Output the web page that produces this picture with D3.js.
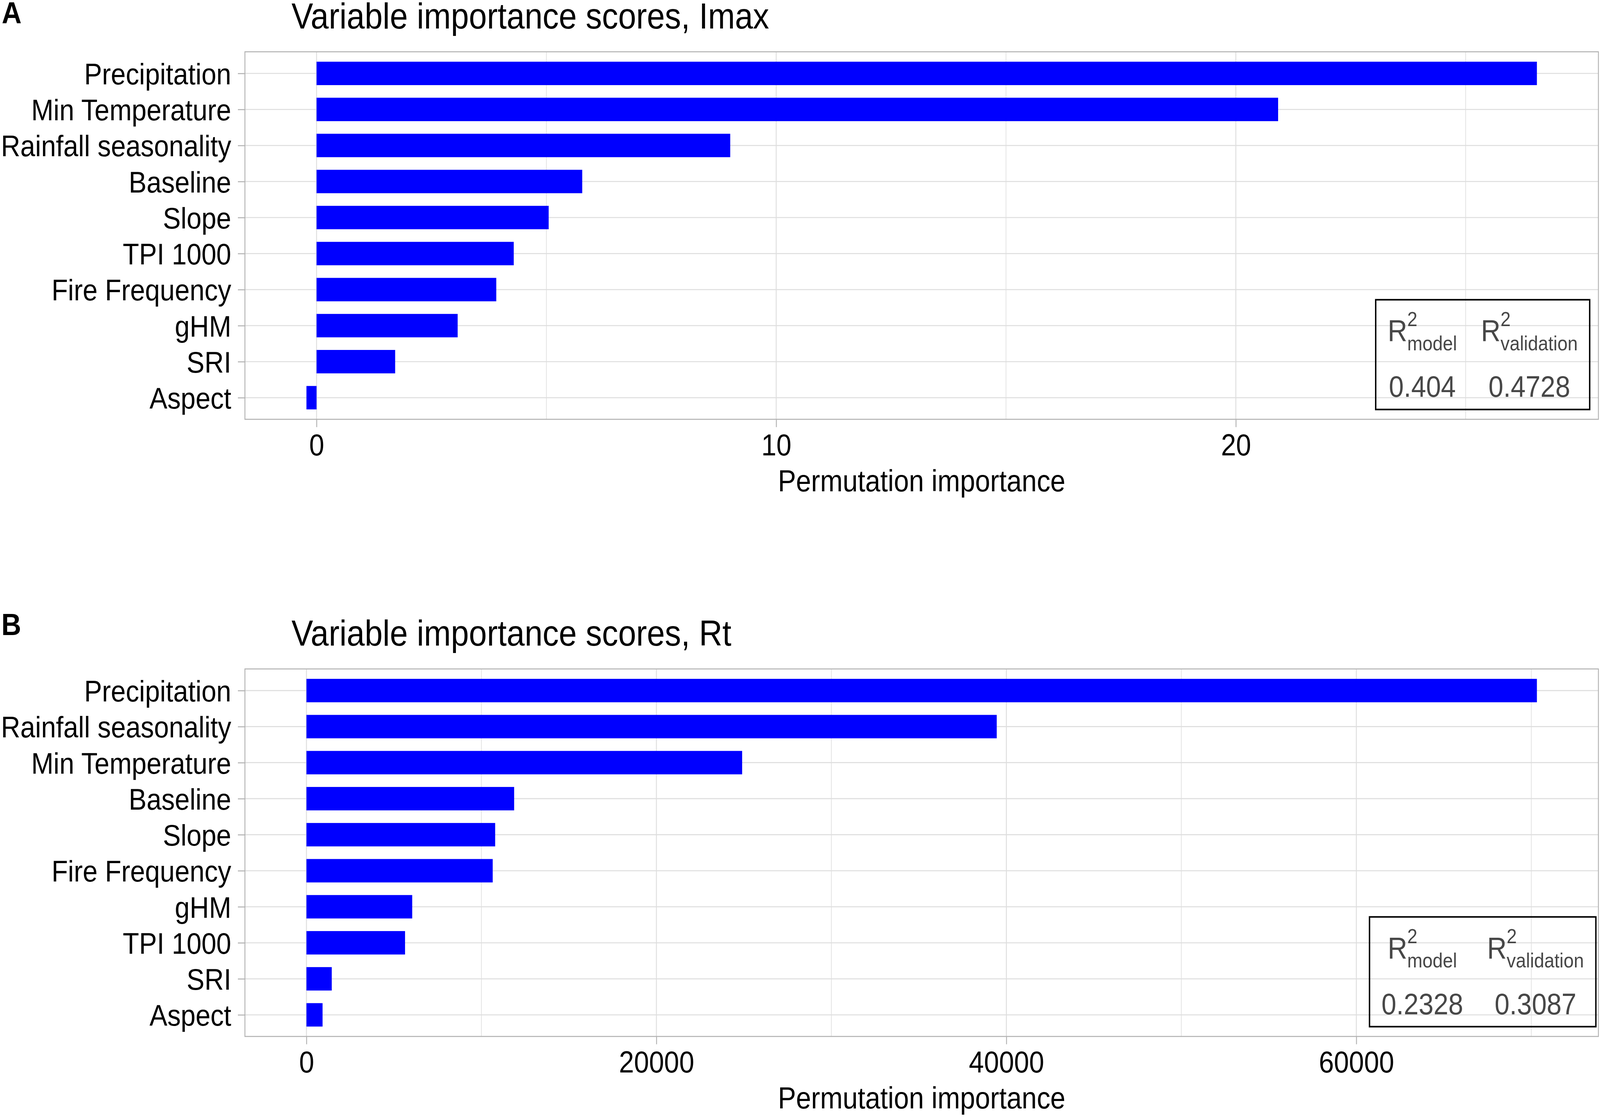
<!DOCTYPE html>
<html>
<head>
<meta charset="utf-8">
<script src="https://d3js.org/d3.v7.min.js"></script>
<style>
  html, body {
    margin: 0;
    padding: 0;
    width: 100%;
    height: 100%;
    background: white;
    overflow: hidden;
  }
  svg {
    display: block;
    width: 100vw;
    height: 100vh;
    font-family: "Liberation Sans", Arial, Helvetica, sans-serif;
  }
</style>
</head>
<body>
<svg viewBox="0 0 4550 2860" preserveAspectRatio="none"></svg>
<script>
// Panel A: Imax
const imaxVars = ["Precipitation", "Min Temperature", "Rainfall seasonality", "Baseline", "Slope",
                  "TPI 1000", "Fire Frequency", "gHM", "SRI", "Aspect"];
const imaxScores = [26.55, 20.92, 9.00, 5.78, 5.05, 4.29, 3.91, 3.07, 1.71, -0.22];
const imaxTicks = [0, 10, 20];
const imaxMinor = [5, 15, 25];
const imaxR2 = ["0.404", "0.4728"];

// Panel B: Rt
const rtVars = ["Precipitation", "Rainfall seasonality", "Min Temperature", "Baseline", "Slope",
                "Fire Frequency", "gHM", "TPI 1000", "SRI", "Aspect"];
const rtScores = [70320, 39450, 24900, 11870, 10785, 10645, 6045, 5635, 1447, 921];
const rtTicks = [0, 20000, 40000, 60000];
const rtMinor = [10000, 30000, 50000, 70000];
const rtR2 = ["0.2328", "0.3087"];

const r2Names = ["model", "validation"];

const svg = d3.select("svg");
svg.append("rect").attr("width", 4550).attr("height", 2860).attr("fill", "white");

const left = 696.5, right = 4545.5, panelH = 941;
const gridCol = "#dedede", borderCol = "#b3b3b3";

function drawPanel(o) {
  const top = o.top, bottom = top + panelH;
  const lo = Math.min(0, d3.min(o.scores)), hi = Math.max(0, d3.max(o.scores));
  const pad = (hi - lo) * 0.05;

  const x = d3.scaleLinear().domain([lo - pad, hi + pad]).range([left, right]);
  const y = d3.scalePoint().domain(o.vars).range([top, bottom]).padding(0.6);
  const bh = y.step() * 0.65;

  const g = svg.append("g");

  // grid lines
  g.selectAll(".minor").data(o.minor).join("line")
    .attr("x1", d => x(d)).attr("x2", d => x(d))
    .attr("y1", top).attr("y2", bottom)
    .attr("stroke", gridCol).attr("stroke-width", 1.8);
  g.selectAll(".major").data(o.ticks).join("line")
    .attr("x1", d => x(d)).attr("x2", d => x(d))
    .attr("y1", top).attr("y2", bottom)
    .attr("stroke", gridCol).attr("stroke-width", 2.6);
  g.selectAll(".hgrid").data(o.vars).join("line")
    .attr("x1", left).attr("x2", right)
    .attr("y1", d => y(d)).attr("y2", d => y(d))
    .attr("stroke", gridCol).attr("stroke-width", 2.6);

  // bars
  g.selectAll(".bar").data(o.vars.map((v, i) => ({ v: v, s: o.scores[i] }))).join("rect")
    .attr("x", d => x(Math.min(0, d.s)))
    .attr("width", d => Math.abs(x(d.s) - x(0)))
    .attr("y", d => y(d.v) - bh / 2)
    .attr("height", bh)
    .attr("fill", "#0000ff");

  // panel border
  g.append("rect")
    .attr("x", left).attr("y", top)
    .attr("width", right - left).attr("height", panelH)
    .attr("fill", "none").attr("stroke", borderCol).attr("stroke-width", 2.6);

  // axes
  const xAxis = g.append("g")
    .attr("transform", "translate(0," + bottom + ")")
    .call(d3.axisBottom(x).tickValues(o.ticks).tickFormat(d3.format("d"))
      .tickSizeInner(20).tickSizeOuter(0).tickPadding(18));
  const yAxis = g.append("g")
    .attr("transform", "translate(" + left + ",0)")
    .call(d3.axisLeft(y).tickSizeInner(20).tickSizeOuter(0).tickPadding(19));

  [xAxis, yAxis].forEach(a => {
    a.attr("font-family", null).attr("font-size", null);
    a.select(".domain").remove();
    a.selectAll(".tick line").attr("stroke", borderCol).attr("stroke-width", 2.6);
    a.selectAll(".tick text").attr("fill", "black");
  });
  xAxis.selectAll(".tick text").style("font-size", "77px");
  yAxis.selectAll(".tick text").style("font-size", "76px").attr("dy", "0.36em");

  // axis title
  g.append("text")
    .attr("x", (left + right) / 2).attr("y", bottom + 184.5)
    .attr("text-anchor", "middle")
    .style("font-size", "77px")
    .text("Permutation importance");

  // plot title
  g.append("text")
    .attr("x", 829).attr("y", top - 59.7)
    .style("font-size", "92px")
    .text(o.title);

  // panel tag
  g.append("text")
    .attr("x", o.tagX).attr("y", o.tagY)
    .style("font-size", "78px").style("font-weight", "bold")
    .text(o.tag);

  // R2 table
  const cx = left + 0.9145 * (right - left), cy = bottom - 0.176 * panelH;
  const tg = g.append("g").attr("fill", "#474747");
  const cols = r2Names.map((name, i) => {
    const R = tg.append("text").style("font-size", "77px").text("R");
    const sup = tg.append("text").style("font-size", "52px").text("2");
    const sub = tg.append("text").style("font-size", "52px").text(name);
    const val = tg.append("text").style("font-size", "76px")
      .attr("text-anchor", "middle").text(o.r2[i]);
    const wR = R.node().getComputedTextLength();
    const wS = Math.max(sup.node().getComputedTextLength(), sub.node().getComputedTextLength());
    const wV = val.node().getComputedTextLength();
    return { R: R, sup: sup, sub: sub, val: val, wR: wR, wH: wR + wS, w: Math.max(wR + wS, wV) + 68 };
  });
  const tw = d3.sum(cols, c => c.w), th = 281;
  const tx = cx - tw / 2, ty = cy - th / 2;
  let colX = tx;
  cols.forEach(c => {
    const mid = colX + c.w / 2;
    const hx = mid - c.wH / 2;
    c.R.attr("x", hx).attr("y", ty + 106);
    c.sup.attr("x", hx + c.wR).attr("y", ty + 106 - 38.5);
    c.sub.attr("x", hx + c.wR).attr("y", ty + 106 + 23.5);
    c.val.attr("x", mid).attr("y", ty + 249);
    colX += c.w;
  });
  tg.append("rect")
    .attr("x", tx).attr("y", ty).attr("width", tw).attr("height", th)
    .attr("fill", "none").attr("stroke", "black").attr("stroke-width", 4);
}

drawPanel({
  tag: "A", tagX: 5, tagY: 60,
  title: "Variable importance scores, Imax",
  top: 132.6,
  vars: imaxVars, scores: imaxScores,
  ticks: imaxTicks, minor: imaxMinor, r2: imaxR2
});

drawPanel({
  tag: "B", tagX: 4, tagY: 1626,
  title: "Variable importance scores, Rt",
  top: 1712.8,
  vars: rtVars, scores: rtScores,
  ticks: rtTicks, minor: rtMinor, r2: rtR2
});
</script>
</body>
</html>
